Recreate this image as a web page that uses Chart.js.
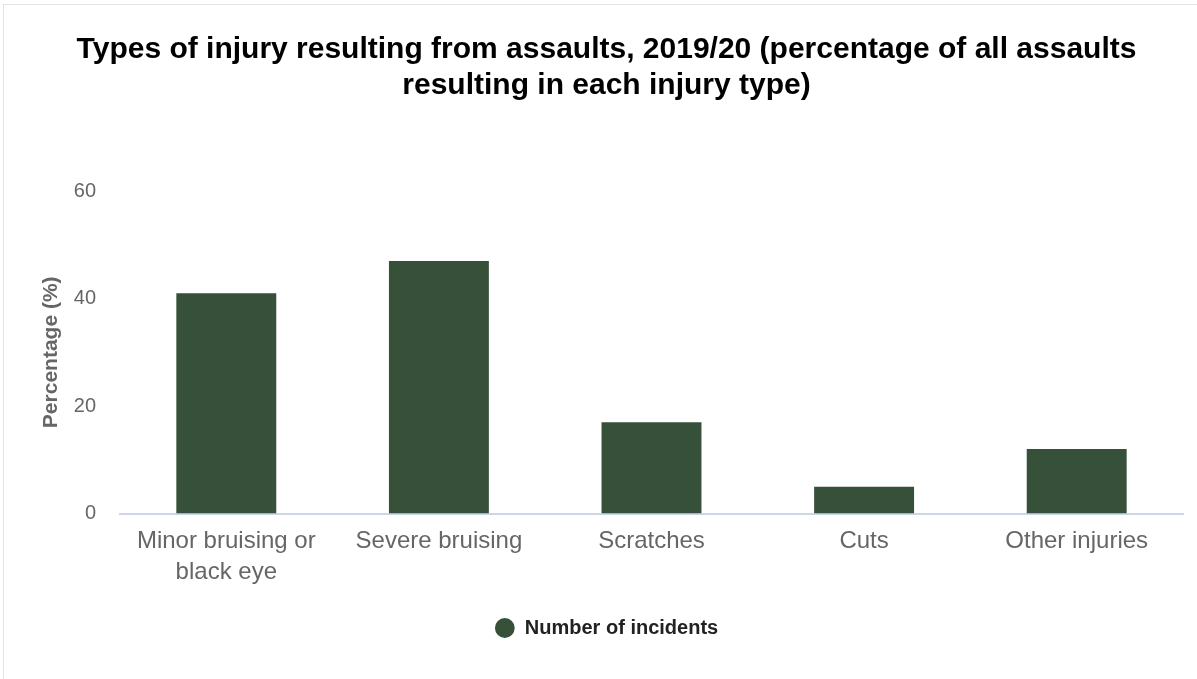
<!DOCTYPE html>
<html>
<head>
<meta charset="utf-8">
<script src="https://cdn.jsdelivr.net/npm/chart.js@4/dist/chart.umd.min.js"></script>
<style>
  html, body { margin: 0; padding: 0; background: #fff; overflow: hidden; width: 1197px; height: 679px; }
  #frame { position: absolute; left: 3px; top: 4px; width: 1214px; height: 700px; border: 1px solid #e3e3e3; box-sizing: border-box; }
  #c { position: absolute; left: 3px; top: 4px; }
</style>
</head>
<body>
<div id="frame"></div>
<canvas id="c" width="1214" height="675"></canvas>
<script>
const categories = [["Minor bruising or", "black eye"], "Severe bruising", "Scratches", "Cuts", "Other injuries"];
const percentages = [41, 47, 17, 5, 12];
const yTicks = [0, 20, 40, 60];
const seriesName = "Number of incidents";
const titleLines = ["Types of injury resulting from assaults, 2019/20 (percentage of all assaults", "resulting in each injury type)"];

const FONT = "'Liberation Sans', Arial, Helvetica, sans-serif";

new Chart(document.getElementById('c'), {
  type: 'bar',
  data: {
    labels: categories,
    datasets: [{
      label: seriesName,
      data: percentages,
      backgroundColor: '#37503A',
      borderWidth: 0,
      categoryPercentage: 1,
      barPercentage: 0.47
    }]
  },
  options: {
    responsive: false,
    animation: false,
    devicePixelRatio: 1,
    layout: { padding: { left: 27, right: 34, top: 0, bottom: 31 } },
    plugins: {
      title: {
        display: true,
        text: titleLines,
        color: '#000',
        font: { family: FONT, size: 30, weight: 'bold', lineHeight: 1.2 },
        padding: { top: 28, bottom: 87 }
      },
      legend: {
        display: true,
        position: 'bottom',
        labels: {
          usePointStyle: true,
          pointStyle: 'circle',
          boxWidth: 20,
          boxHeight: 14,
          color: '#222',
          font: { family: FONT, size: 20, weight: 'bold' },
          padding: 10
        }
      },
      tooltip: { enabled: false }
    },
    scales: {
      x: {
        grid: { display: false, drawTicks: false },
        border: { display: true, color: '#ccd6eb', width: 2 },
        afterFit: (scale) => { scale.height += 8; },
        ticks: {
          color: '#666',
          font: { family: FONT, size: 24, lineHeight: 1.3 },
          padding: 12,
          maxRotation: 0,
          autoSkip: false
        }
      },
      y: {
        min: 0,
        max: 60,
        afterBuildTicks: (scale) => { scale.ticks = yTicks.map(v => ({ value: v })); },
        afterFit: (scale) => { scale.width = 90; },
        grid: { display: false, drawTicks: false },
        border: { display: false },
        ticks: {
          color: '#666',
          font: { family: FONT, size: 20 },
          padding: 24
        },
        title: {
          display: true,
          text: 'Percentage (%)',
          color: '#666',
          font: { family: FONT, size: 21, weight: 'bold' },
          padding: { top: 9, bottom: 0 }
        }
      }
    }
  }
});
</script>
</body>
</html>
